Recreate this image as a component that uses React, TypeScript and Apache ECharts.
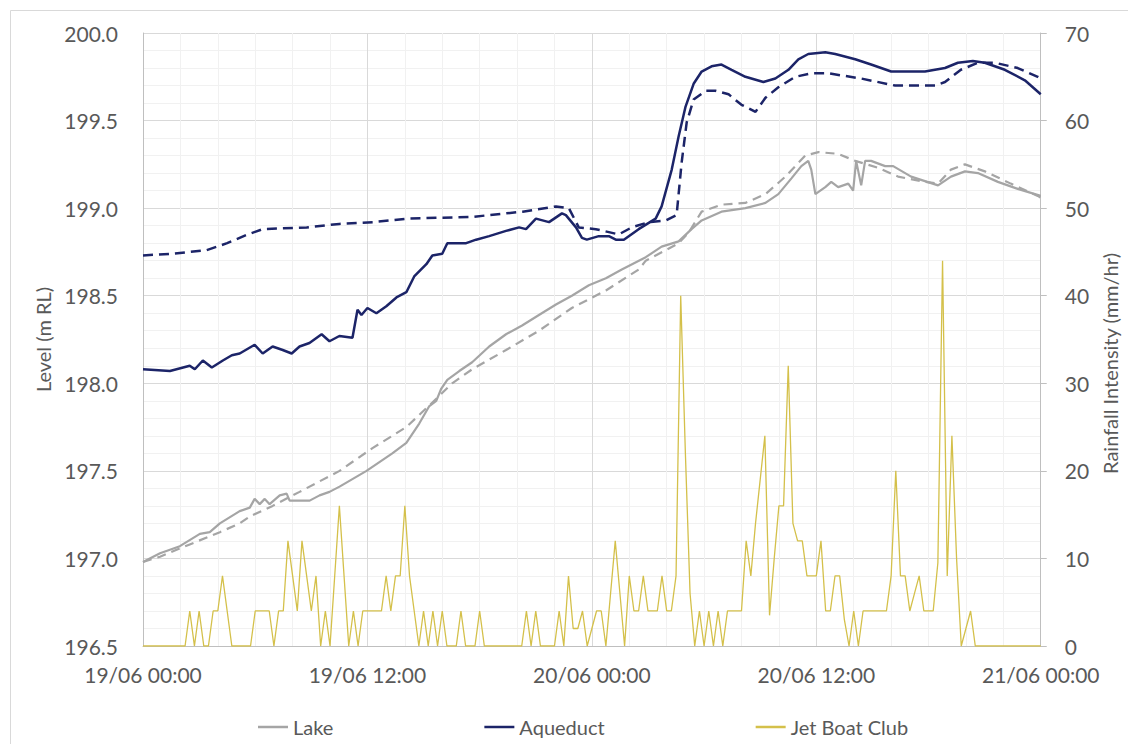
import React, { useEffect, useRef } from 'react';
import * as echarts from 'echarts';

// X axis: hours after 19/06 00:00
const xTickLabels = ['19/06 00:00', '19/06 12:00', '20/06 00:00', '20/06 12:00', '21/06 00:00'];

// Lake (observed)
const lakeHours = [0, 0.91, 1.97, 3.04, 3.57, 4.11, 5.17, 5.71, 5.97, 6.24, 6.51, 6.77, 7.31, 7.68, 7.84, 8.91, 9.44, 9.97, 10.51, 11.95, 13.33, 14.08, 14.77, 15.31, 15.68, 15.95, 16.27, 16.91, 17.6, 18.51, 19.41, 20.27, 21.17, 22.08, 22.93, 23.84, 24.75, 25.6, 26.88, 27.73, 28.64, 29.33, 29.87, 30.93, 32.21, 33.28, 33.97, 34.67, 35.2, 35.57, 35.73, 35.95, 36.48, 36.8, 37.17, 37.71, 37.97, 38.13, 38.4, 38.61, 38.93, 39.68, 40.11, 41.07, 42.51, 43.2, 43.95, 44.64, 45.71, 46.77, 48];
const lakeLevels = [196.98, 197.03, 197.07, 197.14, 197.15, 197.2, 197.27, 197.29, 197.34, 197.31, 197.34, 197.31, 197.36, 197.37, 197.33, 197.33, 197.36, 197.38, 197.41, 197.5, 197.6, 197.66, 197.77, 197.87, 197.9, 197.97, 198.02, 198.07, 198.12, 198.21, 198.28, 198.33, 198.39, 198.45, 198.5, 198.56, 198.6, 198.65, 198.72, 198.78, 198.81, 198.88, 198.93, 198.98, 199.0, 199.03, 199.08, 199.17, 199.24, 199.27, 199.22, 199.08, 199.12, 199.15, 199.12, 199.14, 199.1, 199.27, 199.13, 199.27, 199.27, 199.24, 199.24, 199.18, 199.13, 199.18, 199.21, 199.2, 199.15, 199.11, 199.07];

// Lake (dashed)
const lakeDashHours = [0, 0.91, 2.5, 4.11, 5.17, 5.71, 6.93, 8.37, 10.51, 12.27, 14.08, 15.47, 16.53, 17.6, 19.41, 21.17, 22.93, 24.75, 26.51, 26.88, 27.95, 28.64, 29.17, 29.87, 30.93, 32.21, 33.28, 34.35, 35.41, 36.11, 37.17, 38.08, 39.31, 40.37, 41.81, 42.51, 43.2, 43.95, 45.01, 46.4, 47.84, 48];
const lakeDashLevels = [196.98, 197.01, 197.08, 197.15, 197.2, 197.24, 197.3, 197.38, 197.5, 197.63, 197.75, 197.89, 198.0, 198.08, 198.19, 198.3, 198.43, 198.53, 198.65, 198.7, 198.76, 198.8, 198.86, 198.98, 199.02, 199.03, 199.08, 199.18, 199.3, 199.32, 199.31, 199.27, 199.23, 199.18, 199.15, 199.14, 199.22, 199.25, 199.21, 199.14, 199.07, 199.06];

// Aqueduct (observed)
const aqueductHours = [0, 1.44, 2.5, 2.77, 3.2, 3.68, 4.27, 4.75, 5.17, 5.97, 6.4, 6.93, 7.47, 7.95, 8.37, 8.9, 9.55, 9.97, 10.5, 11.2, 11.47, 11.68, 12.0, 12.48, 13.01, 13.55, 14.08, 14.5, 15.15, 15.47, 16.0, 16.27, 17.28, 17.81, 18.51, 19.41, 20.11, 20.48, 21.01, 21.71, 22.4, 22.61, 23.15, 23.47, 23.73, 24.37, 24.91, 25.28, 25.71, 26.5, 27.41, 27.73, 28.27, 28.64, 29.01, 29.44, 29.87, 30.4, 30.93, 31.47, 32.21, 33.17, 33.81, 34.51, 35.04, 35.57, 36.48, 37.01, 38.08, 38.93, 40.0, 41.81, 42.88, 43.57, 44.37, 45.01, 46.08, 47.15, 48];
const aqueductLevels = [198.08, 198.07, 198.1, 198.08, 198.13, 198.09, 198.13, 198.16, 198.17, 198.22, 198.17, 198.21, 198.19, 198.17, 198.21, 198.23, 198.28, 198.24, 198.27, 198.26, 198.42, 198.39, 198.43, 198.4, 198.44, 198.49, 198.52, 198.61, 198.68, 198.73, 198.74, 198.8, 198.8, 198.82, 198.84, 198.87, 198.89, 198.88, 198.94, 198.92, 198.97, 198.96, 198.89, 198.83, 198.82, 198.84, 198.84, 198.82, 198.82, 198.88, 198.94, 199.01, 199.22, 199.41, 199.58, 199.71, 199.78, 199.81, 199.82, 199.79, 199.75, 199.72, 199.74, 199.79, 199.85, 199.88, 199.89, 199.88, 199.85, 199.82, 199.78, 199.78, 199.8, 199.83, 199.84, 199.83, 199.79, 199.73, 199.65];

// Aqueduct (dashed)
const aqueductDashHours = [0, 1.6, 3.4, 4.5, 5.6, 6.4, 8.75, 10.5, 12.3, 14.1, 17.6, 20.3, 22.08, 22.77, 23.3, 24.21, 25.44, 26.13, 27.04, 27.95, 28.53, 28.8, 29.07, 29.44, 30.08, 30.61, 31.31, 32.0, 32.75, 33.28, 33.97, 34.88, 35.73, 36.64, 38.4, 40.21, 42.35, 42.88, 43.73, 44.64, 45.55, 46.77, 47.84, 48];
const aqueductDashLevels = [198.73, 198.74, 198.76, 198.8, 198.85, 198.88, 198.89, 198.91, 198.92, 198.94, 198.95, 198.98, 199.01, 199.0, 198.89, 198.88, 198.85, 198.89, 198.92, 198.93, 198.96, 199.26, 199.49, 199.62, 199.67, 199.67, 199.65, 199.59, 199.55, 199.63, 199.69, 199.75, 199.77, 199.77, 199.74, 199.7, 199.7, 199.72, 199.79, 199.83, 199.83, 199.8, 199.75, 199.74];

// Jet Boat Club rainfall intensity (mm/hr), 15-minute steps from 19/06 00:00
const rainStepHours = 0.25;
const jetBoatRain = [
  0, 0, 0, 0, 0, 0, 0, 0, 0, 0, 4, 0, 4, 0, 0, 4, 4, 8, 4, 0,
  0, 0, 0, 0, 4, 4, 4, 4, 0, 4, 4, 12, 8, 4, 12, 8, 4, 8, 0, 4,
  0, 8, 16, 8, 0, 4, 0, 4, 4, 4, 4, 4, 8, 4, 8, 8, 16, 8, 4, 0,
  4, 0, 4, 0, 4, 0, 0, 0, 4, 0, 0, 0, 4, 0, 0, 0, 0, 0, 0, 0,
  0, 0, 4, 0, 4, 0, 0, 0, 0, 4, 0, 8, 2, 2, 4, 0, 2, 4, 4, 0,
  6, 12, 6, 0, 8, 4, 4, 8, 4, 4, 4, 8, 4, 4, 8, 40, 22, 6, 0, 4,
  0, 4, 0, 4, 0, 4, 4, 4, 4, 12, 8, 14, 19, 24, 3.5, 10, 16, 16, 32, 14,
  12, 12, 8, 8, 8, 12, 4, 4, 8, 8, 3, 0, 4, 0, 4, 4, 4, 4, 4, 4,
  8, 20, 8, 8, 4, 6, 8, 4, 4, 4, 9.5, 44, 8, 24, 10, 0, 2, 4, 0, 0,
  0, 0, 0, 0, 0, 0, 0, 0, 0, 0, 0, 0, 0
];

const FONT = 'Lato, "Open Sans", sans-serif';
const LABEL = '#595959';
const LAKE = '#a5a5a5';
const AQUEDUCT = '#1c2468';
const RAIN = '#d4c04a';

const pairs = (hs: number[], vs: number[]) => hs.map((h, i) => [h, vs[i]]);

export default function App() {
  const ref = useRef<HTMLDivElement>(null);
  useEffect(() => {
    const chart = echarts.init(ref.current!, null, { renderer: 'svg' });
    chart.setOption({
      animation: false,
      backgroundColor: '#ffffff',
      textStyle: { fontFamily: FONT },
      grid: { left: 143, right: 85, top: 33, bottom: 98 },
      legend: {
        data: ['Lake', 'Aqueduct', 'Jet Boat Club'],
        left: 253,
        top: 712,
        itemGap: 151,
        icon: 'rect',
        itemWidth: 30,
        itemHeight: 2.5,
        textStyle: { fontFamily: FONT, fontSize: 20, color: LABEL, padding: [0, 0, 0, 0] },
      },
      graphic: [
        {
          type: 'rect',
          silent: true,
          shape: { x: 10.5, y: 10.5, width: 1140, height: 760 },
          style: { fill: 'none', stroke: '#d9d9d9', lineWidth: 1 },
        },
      ],
      xAxis: {
        type: 'value',
        min: 0,
        max: 48,
        interval: 12,
        axisLine: { show: true, lineStyle: { color: '#bfbfbf', width: 1 } },
        axisTick: { show: false },
        axisLabel: {
          margin: 18,
          fontFamily: FONT,
          fontSize: 21,
          color: LABEL,
          formatter: (v: number) => xTickLabels[Math.round(v / 12)] ?? '',
        },
        splitLine: { show: true, lineStyle: { color: '#d9d9d9', width: 1 } },
        minorTick: { show: false, splitNumber: 6 },
        minorSplitLine: { show: true, lineStyle: { color: '#f1f1f1', width: 1 } },
      },
      yAxis: [
        {
          type: 'value',
          min: 196.5,
          max: 200,
          interval: 0.5,
          name: 'Level (m RL)',
          nameLocation: 'middle',
          nameRotate: 90,
          nameGap: 88,
          nameTextStyle: { fontFamily: FONT, fontSize: 20, color: LABEL },
          axisLine: { show: true, lineStyle: { color: '#bfbfbf', width: 1 } },
          axisTick: { show: false },
          axisLabel: {
            margin: 25,
            fontFamily: FONT,
            fontSize: 21,
            color: LABEL,
            formatter: (v: number) => v.toFixed(1),
          },
          splitLine: { show: true, lineStyle: { color: '#d9d9d9', width: 1 } },
          minorTick: { show: false, splitNumber: 5 },
          minorSplitLine: { show: true, lineStyle: { color: '#f1f1f1', width: 1 } },
        },
        {
          type: 'value',
          min: 0,
          max: 70,
          interval: 10,
          position: 'right',
          name: 'Rainfall Intensity (mm/hr)',
          nameLocation: 'middle',
          nameRotate: 90,
          nameGap: 58,
          nameTextStyle: { fontFamily: FONT, fontSize: 20, color: LABEL, padding: [0, 48, 0, 0] },
          axisLine: { show: true, lineStyle: { color: '#bfbfbf', width: 1 } },
          axisTick: { show: true, length: 6, lineStyle: { color: '#bfbfbf' } },
          axisLabel: { margin: 24, fontFamily: FONT, fontSize: 21, color: LABEL },
          splitLine: { show: false },
        },
      ],
      series: [
        {
          name: 'Jet Boat Club',
          type: 'line',
          yAxisIndex: 1,
          symbol: 'none',
          z: 1,
          lineStyle: { color: RAIN, width: 1.3 },
          itemStyle: { color: RAIN },
          data: jetBoatRain.map((v, i) => [i * rainStepHours, v]),
        },
        {
          name: 'Lake',
          type: 'line',
          symbol: 'none',
          z: 3,
          lineStyle: { color: LAKE, width: 2.2 },
          itemStyle: { color: LAKE },
          data: pairs(lakeHours, lakeLevels),
        },
        {
          name: 'Lake (dashed)',
          type: 'line',
          symbol: 'none',
          z: 3,
          lineStyle: { color: LAKE, width: 2.2, type: [9, 6] },
          itemStyle: { color: LAKE },
          data: pairs(lakeDashHours, lakeDashLevels),
        },
        {
          name: 'Aqueduct',
          type: 'line',
          symbol: 'none',
          z: 4,
          lineStyle: { color: AQUEDUCT, width: 2.5 },
          itemStyle: { color: AQUEDUCT },
          data: pairs(aqueductHours, aqueductLevels),
        },
        {
          name: 'Aqueduct (dashed)',
          type: 'line',
          symbol: 'none',
          z: 4,
          lineStyle: { color: AQUEDUCT, width: 2.5, type: [10, 6] },
          itemStyle: { color: AQUEDUCT },
          data: pairs(aqueductDashHours, aqueductDashLevels),
        },
      ],
    });
    return () => chart.dispose();
  }, []);
  return (
    <div
      ref={ref}
      style={{ position: 'fixed', left: 0, top: 0, width: 1128, height: 744, background: '#ffffff' }}
    />
  );
}
